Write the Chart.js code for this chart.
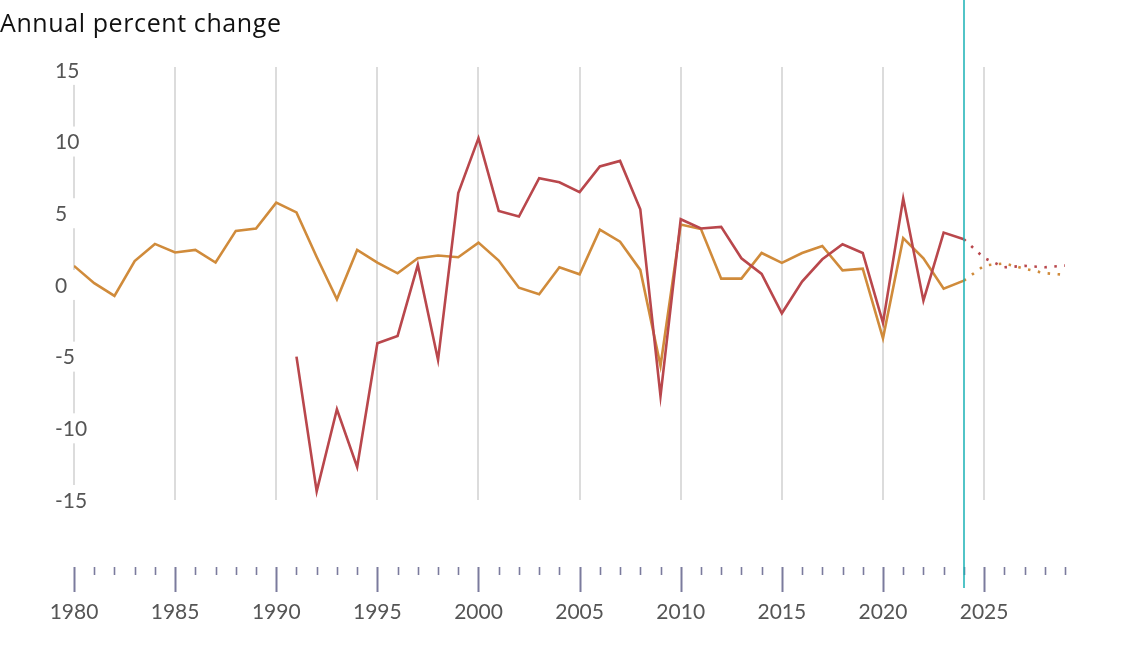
<!DOCTYPE html>
<html>
<head>
<meta charset="utf-8">
<script src="https://cdn.jsdelivr.net/npm/chart.js@4/dist/chart.umd.min.js"></script>
<style>
  html, body { margin: 0; padding: 0; background: #fff; }
</style>
</head>
<body>
<canvas id="growthChart" width="1140" height="666"></canvas>
<script>
// Data block
const firstYear = 1980;
const lastYear = 2029;
const labelYears = [1980, 1985, 1990, 1995, 2000, 2005, 2010, 2015, 2020, 2025];
const yTicks = [15, 10, 5, 0, -5, -10, -15];

// orange series, 1980-2024
const orangeActual = [1.33, 0.12, -0.77, 1.67, 2.86, 2.26, 2.44, 1.56, 3.77, 3.93,
    5.74, 5.06, 1.95, -1.0, 2.44, 1.56, 0.81, 1.86, 2.05, 1.93,
    2.95, 1.70, -0.19, -0.65, 1.23, 0.74, 3.86, 3.02, 1.05, -5.64,
    4.21, 3.90, 0.44, 0.44, 2.23, 1.54, 2.23, 2.72, 1.02, 1.14,
    -3.72, 3.26, 1.86, -0.26, 0.30];
// orange projection, 2024-2029
const orangeForecast = [0.30, 1.35, 1.50, 1.13, 0.82, 0.71];

// red series, 1991-2024
const redStart = 1991;
const redActual = [-5.0, -14.4, -8.67, -12.7, -4.07, -3.56, 1.40, -5.23, 6.40, 10.24,
    5.16, 4.77, 7.44, 7.16, 6.47, 8.26, 8.65, 5.28, -7.75, 4.58,
    3.94, 4.05, 1.86, 0.77, -1.98, 0.23, 1.79, 2.84, 2.23, -2.65,
    6.02, -1.10, 3.65, 3.19];
// red projection, 2024-2029
const redForecast = [3.19, 1.88, 1.23, 1.33, 1.23, 1.35];

const forecastStart = 2024;

const orangeColor = '#d08b3b';
const redColor = '#b9474c';

// turn a list of values into {x, y} points starting at a year
function toPoints(start, values) {
    return values.map((v, i) => ({ x: start + i, y: v }));
}

// Axis / decoration plugin block
const axisDecor = {
    id: 'axisDecor',
    beforeDatasetsDraw(chart) {
        const { ctx, chartArea, scales } = chart;
        const xs = scales.x, ys = scales.y;
        ctx.save();
        // vertical grid lines every 5 years
        ctx.strokeStyle = '#dcdcdc';
        ctx.lineWidth = 2;
        labelYears.forEach(yr => {
            const px = Math.round(xs.getPixelForValue(yr));
            ctx.beginPath();
            ctx.moveTo(px, chartArea.top);
            ctx.lineTo(px, ys.getPixelForValue(-15));
            ctx.stroke();
        });
        // y labels, on a white box over the first grid line
        ctx.font = '21px Lato';
        ctx.textBaseline = 'middle';
        ctx.textAlign = 'left';
        const lx = chartArea.left - 19;
        yTicks.forEach(v => {
            const py = ys.getPixelForValue(v);
            const txt = String(v);
            const w = ctx.measureText(txt).width;
            ctx.fillStyle = '#fff';
            ctx.fillRect(lx - 4, py - 15, Math.max(32, w + 8), 30);
            ctx.fillStyle = '#555';
            ctx.fillText(txt, lx, py + 1);
        });
        ctx.restore();
    },
    afterDatasetsDraw(chart) {
        const { ctx, chartArea, scales } = chart;
        const xs = scales.x;
        const tickTop = chartArea.bottom + 67;
        ctx.save();
        // x tick marks
        ctx.strokeStyle = '#7b7b9d';
        for (let yr = firstYear; yr <= lastYear; yr++) {
            const major = labelYears.includes(yr);
            const px = Math.round(xs.getPixelForValue(yr)) + 0.5;
            ctx.lineWidth = major ? 2 : 1.6;
            ctx.beginPath();
            ctx.moveTo(px, tickTop);
            ctx.lineTo(px, tickTop + (major ? 25 : 8));
            ctx.stroke();
        }
        // x labels
        ctx.font = '21px Lato';
        ctx.fillStyle = '#555';
        ctx.textAlign = 'center';
        ctx.textBaseline = 'middle';
        labelYears.forEach(yr => {
            ctx.fillText(String(yr), xs.getPixelForValue(yr), tickTop + 45);
        });
        // projection start line
        const cx = Math.round(xs.getPixelForValue(forecastStart));
        ctx.strokeStyle = '#19b1b4';
        ctx.lineWidth = 1.5;
        ctx.beginPath();
        ctx.moveTo(cx, 0);
        ctx.lineTo(cx, tickTop + 21);
        ctx.stroke();
        // title
        ctx.font = '25px "Open Sans"';
        ctx.letterSpacing = '0.6px';
        ctx.fillStyle = '#111';
        ctx.textAlign = 'left';
        ctx.textBaseline = 'alphabetic';
        ctx.fillText('Annual percent change', 0, 32);
        ctx.restore();
    }
};

// Config block
const growthConfig = {
    type: 'line',
    data: {
        datasets: [
            { label: 'Red', data: toPoints(redStart, redActual), borderColor: redColor, borderWidth: 2.6 },
            { label: 'Orange', data: toPoints(firstYear, orangeActual), borderColor: orangeColor, borderWidth: 2.6 },
            { label: 'Red projection', data: toPoints(forecastStart, redForecast), borderColor: redColor,
              borderWidth: 2.6, borderDash: [2.5, 7.5] },
            { label: 'Orange projection', data: toPoints(forecastStart, orangeForecast), borderColor: orangeColor,
              borderWidth: 2.6, borderDash: [2.5, 7.5] }
        ]
    },
    options: {
        responsive: false,
        animation: false,
        layout: { padding: { left: 74, right: 75, top: 67, bottom: 166 } },
        elements: { point: { radius: 0 }, line: { tension: 0 } },
        scales: {
            x: { type: 'linear', min: firstYear, max: lastYear, display: false },
            y: { min: -15, max: 15.2, display: false }
        },
        plugins: {
            legend: { display: false },
            tooltip: { enabled: false }
        }
    },
    plugins: [axisDecor]
};

// render block
const growthChart = new Chart(document.getElementById('growthChart'), growthConfig);
</script>
</body>
</html>
